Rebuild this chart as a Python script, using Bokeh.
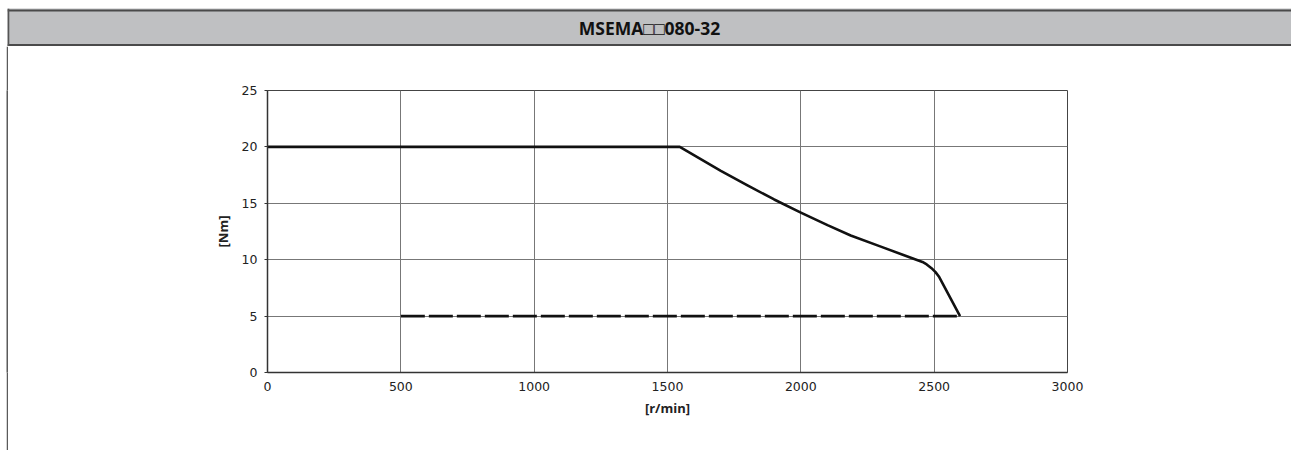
from bokeh.plotting import figure
from bokeh.layouts import column, row, Spacer
from bokeh.models import Range1d, Span, FixedTicker
from bokeh.core.properties import value
from bokeh.embed import file_html
from bokeh.resources import INLINE

# ---- data ----
title_text = "MSEMA\u25a1\u25a1080-32"
x_label = "[r/min]"
y_label = "[Nm]"
x_ticks = [0, 500, 1000, 1500, 2000, 2500, 3000]
y_ticks = [0, 5, 10, 15, 20, 25]

# peak torque curve (solid)
peak_speed = [0, 1546, 1700, 1800, 1900, 2000, 2100, 2187, 2300, 2400, 2456, 2472, 2490, 2505, 2519, 2597]
peak_torque = [20, 20, 17.88, 16.58, 15.34, 14.17, 13.06, 12.15, 11.16, 10.28, 9.8, 9.58, 9.25, 8.9, 8.46, 5.0]

# rated torque line (dashed)
rated_speed = [500, 2597]
rated_torque = [5.0, 5.0]

TOTAL_W = 1291
HEAD_TOP = 8
HEAD_LEFT = 7
HEAD_H = 46
MAIN_H = 404
GAP_W = 6
STRIP_W = 2

# ---- header bar ----
head = figure(width=TOTAL_W, height=HEAD_H,
              x_range=Range1d(0, TOTAL_W - HEAD_LEFT), y_range=Range1d(0, HEAD_H - HEAD_TOP),
              output_backend="svg", toolbar_location=None,
              x_axis_location=None, y_axis_location=None,
              min_border=0, min_border_top=HEAD_TOP, min_border_left=HEAD_LEFT)
head.grid.visible = False
head.background_fill_color = "#bfc0c2"
head.border_fill_color = "white"
head.outline_line_color = None
bar_h = HEAD_H - HEAD_TOP
head.add_layout(Span(location=bar_h - 2, dimension="width", line_color="#4a4a4a", line_width=2))
head.add_layout(Span(location=1.5, dimension="width", line_color="#4a4a4a", line_width=2))
head.add_layout(Span(location=0.8, dimension="height", line_color="#555555", line_width=2))
head.text(x=[(TOTAL_W - HEAD_LEFT) / 2], y=[bar_h / 2], text=[title_text],
          text_align="center", text_baseline="middle",
          text_font=value("Open Sans"), text_font_style="bold", text_font_size="17.5px",
          text_color="#111111")

# ---- left strip (page frame line) ----
strip = figure(width=STRIP_W, height=MAIN_H, output_backend="svg", toolbar_location=None,
               x_axis_location=None, y_axis_location=None, min_border=0)
strip.grid.visible = False
strip.background_fill_color = "#5a5a5a"
strip.border_fill_color = "#5a5a5a"
strip.outline_line_color = None

# ---- main chart ----
p = figure(width=TOTAL_W - GAP_W - STRIP_W, height=MAIN_H, x_range=Range1d(0, 3000), y_range=Range1d(0, 25),
           output_backend="svg", toolbar_location=None,
           min_border_left=259, min_border_right=224, min_border_top=44, min_border_bottom=78)
p.background_fill_color = "white"
p.border_fill_color = "white"
p.outline_line_color = "#444444"
p.outline_line_width = 1

p.xaxis.ticker = FixedTicker(ticks=x_ticks)
p.yaxis.ticker = FixedTicker(ticks=y_ticks)
for ax in (p.xaxis, p.yaxis):
    ax.axis_line_color = "#333333"
    ax.axis_line_width = 1.5
    ax.major_tick_line_color = "#333333"
    ax.minor_tick_line_color = None
    ax.major_tick_in = 0
    ax.major_label_text_font = "DejaVu Sans"
    ax.major_label_text_font_size = "12.5px"
    ax.major_label_text_color = "#222222"
    ax.axis_label_text_font = "Open Sans"
    ax.axis_label_text_font_style = "bold"
    ax.axis_label_text_font_size = "13px"
    ax.axis_label_text_color = "#222222"
p.xaxis.major_tick_out = 0
p.xaxis.major_label_standoff = 9
p.xaxis.axis_label_standoff = 5
p.yaxis.major_tick_out = 3
p.yaxis.major_label_standoff = 7
p.yaxis.axis_label_standoff = 7
p.xaxis.axis_label = x_label
p.yaxis.axis_label = y_label

p.grid.grid_line_color = "#777777"
p.grid.grid_line_width = 1

p.line(peak_speed, peak_torque, line_color="#111111", line_width=2.6, line_join="round")
p.line(rated_speed, rated_torque, line_color="#111111", line_width=2.6, line_dash="24 4")

layout = column(head, row(Spacer(width=GAP_W, height=MAIN_H), strip, p))
open("out.html", "w").write(file_html(layout, INLINE))
